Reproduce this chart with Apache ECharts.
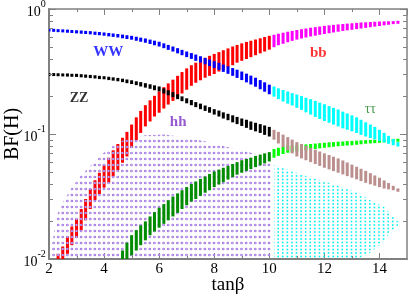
<!DOCTYPE html>
<html><head><meta charset="utf-8">
<script src="https://cdn.jsdelivr.net/npm/echarts@6/dist/echarts.min.js"></script>
<style>html,body{margin:0;padding:0;background:#fff}#c{width:409px;height:298px}</style>
</head><body><div id="c"></div>
<script>
// tanβ scan grid (x positions of the sampled points)
const tanb = [2.00,2.17,2.33,2.50,2.67,2.83,3.00,3.17,3.33,3.50,3.67,3.83,4.00,4.17,4.33,4.50,4.67,4.83,5.00,5.17,5.33,5.50,5.67,5.83,6.00,6.17,6.33,6.50,6.67,6.83,7.00,7.17,7.33,7.50,7.67,7.83,8.00,8.17,8.33,8.50,8.67,8.83,9.00,9.17,9.33,9.50,9.67,9.83,10.00,10.17,10.33,10.50,10.67,10.83,11.00,11.17,11.33,11.50,11.67,11.83,12.00,12.17,12.33,12.50,12.67,12.83,13.00,13.17,13.33,13.50,13.67,13.83,14.00,14.17,14.33,14.50,14.67];
const colourSplit = 10; // colour change of each band at tanβ = 10

const wwHi = [0.697,0.693,0.690,0.687,0.684,0.679,0.676,0.673,0.668,0.665,0.659,0.655,0.649,0.643,0.637,0.631,0.624,0.617,0.610,0.600,0.590,0.581,0.569,0.558,0.547,0.531,0.516,0.501,0.486,0.471,0.457,0.444,0.432,0.419,0.406,0.394,0.382,0.371,0.359,0.348,0.337,0.327,0.316,0.304,0.293,0.282,0.270,0.259,0.248,0.240,0.232,0.225,0.219,0.212,0.207,0.201,0.195,0.190,0.184,0.178,0.173,0.167,0.162,0.157,0.151,0.146,0.141,0.136,0.130,0.124,0.119,0.114,0.108,0.102,0.0966,0.0912,0.0861];
const wwLo = [0.661,0.658,0.653,0.650,0.646,0.643,0.638,0.634,0.631,0.627,0.621,0.617,0.611,0.604,0.598,0.592,0.583,0.575,0.568,0.557,0.547,0.537,0.525,0.513,0.501,0.486,0.471,0.457,0.442,0.427,0.412,0.399,0.385,0.373,0.361,0.349,0.337,0.326,0.314,0.303,0.292,0.281,0.270,0.259,0.249,0.239,0.228,0.218,0.208,0.199,0.190,0.182,0.175,0.169,0.162,0.156,0.149,0.143,0.137,0.132,0.127,0.123,0.119,0.115,0.111,0.108,0.105,0.102,0.0984,0.0955,0.0929,0.0906,0.0881,0.0857,0.0836,0.0813,0.0794];

const zzHi = [0.308,0.307,0.306,0.305,0.305,0.303,0.303,0.301,0.299,0.297,0.295,0.292,0.290,0.287,0.284,0.281,0.277,0.273,0.269,0.264,0.260,0.255,0.250,0.245,0.240,0.232,0.224,0.216,0.208,0.200,0.193,0.187,0.180,0.175,0.169,0.164,0.158,0.154,0.149,0.145,0.141,0.137,0.133,0.130,0.126,0.123,0.120,0.117,0.114,0.108,0.104,0.0989,0.0944,0.0902,0.0861,0.0832,0.0804,0.0776,0.0750,0.0724,0.0700,0.0679,0.0658,0.0638,0.0614,0.0592,0.0569,0.0547,0.0527,0.0507,0.0486,0.0466,0.0447,0.0425,0.0405,0.0385,0.0367];
const zzLo = [0.292,0.291,0.290,0.289,0.288,0.287,0.286,0.284,0.282,0.280,0.278,0.275,0.274,0.270,0.267,0.264,0.260,0.255,0.251,0.246,0.240,0.235,0.230,0.224,0.219,0.211,0.204,0.197,0.190,0.183,0.176,0.170,0.164,0.158,0.153,0.148,0.143,0.138,0.133,0.129,0.124,0.120,0.116,0.112,0.108,0.105,0.102,0.0984,0.0955,0.0900,0.0840,0.0785,0.0740,0.0700,0.0661,0.0638,0.0617,0.0596,0.0575,0.0556,0.0537,0.0521,0.0505,0.0490,0.0475,0.0460,0.0447,0.0434,0.0420,0.0407,0.0396,0.0386,0.0376,0.0366,0.0361,0.0355,0.0345];

const bbHi = [null,null,0.0110,0.0126,0.0151,0.0182,0.0209,0.0251,0.0302,0.0363,0.0427,0.0490,0.0562,0.0646,0.0741,0.0832,0.0933,0.104,0.119,0.136,0.153,0.170,0.186,0.202,0.219,0.237,0.254,0.272,0.292,0.313,0.335,0.355,0.372,0.389,0.407,0.422,0.437,0.452,0.468,0.484,0.501,0.516,0.531,0.545,0.557,0.570,0.583,0.597,0.610,0.622,0.634,0.646,0.658,0.668,0.679,0.689,0.698,0.708,0.716,0.724,0.733,0.740,0.746,0.753,0.759,0.764,0.769,0.774,0.780,0.783,0.787,0.791,0.794,0.796,0.798,0.800,0.802];
const bbLo = [null,null,0.0100,0.0100,0.0110,0.0129,0.0148,0.0170,0.0204,0.0251,0.0295,0.0331,0.0372,0.0407,0.0457,0.0513,0.0589,0.0661,0.0776,0.0891,0.102,0.115,0.126,0.138,0.148,0.160,0.172,0.184,0.197,0.211,0.226,0.243,0.257,0.269,0.282,0.292,0.302,0.316,0.327,0.343,0.355,0.372,0.385,0.398,0.412,0.427,0.442,0.457,0.473,0.495,0.513,0.527,0.542,0.556,0.569,0.581,0.592,0.603,0.612,0.622,0.631,0.640,0.649,0.658,0.667,0.675,0.682,0.690,0.698,0.706,0.715,0.723,0.731,0.740,0.748,0.757,0.764];

const ttHi = [null,null,null,null,null,null,null,null,null,null,null,null,null,null,null,null,0.0117,0.0135,0.0155,0.0170,0.0186,0.0200,0.0219,0.0237,0.0257,0.0275,0.0295,0.0316,0.0335,0.0355,0.0376,0.0398,0.0417,0.0437,0.0457,0.0479,0.0501,0.0519,0.0537,0.0556,0.0575,0.0596,0.0617,0.0631,0.0646,0.0668,0.0684,0.0700,0.0716,0.0759,0.0776,0.0794,0.0804,0.0809,0.0813,0.0818,0.0826,0.0832,0.0838,0.0845,0.0851,0.0857,0.0861,0.0867,0.0871,0.0877,0.0881,0.0885,0.0889,0.0893,0.0897,0.0899,0.0902,0.0904,0.0908,0.0910,0.0912];
const ttLo = [null,null,null,null,null,null,null,null,null,null,null,null,null,null,null,null,0.0100,0.0100,0.0107,0.0117,0.0129,0.0141,0.0155,0.0166,0.0178,0.0191,0.0204,0.0219,0.0234,0.0251,0.0269,0.0288,0.0302,0.0320,0.0339,0.0355,0.0376,0.0394,0.0412,0.0432,0.0452,0.0473,0.0490,0.0507,0.0525,0.0543,0.0562,0.0582,0.0603,0.0646,0.0668,0.0692,0.0708,0.0716,0.0724,0.0733,0.0741,0.0750,0.0759,0.0767,0.0776,0.0783,0.0791,0.0798,0.0804,0.0809,0.0813,0.0820,0.0828,0.0836,0.0841,0.0845,0.0851,0.0857,0.0863,0.0867,0.0871];

// hh: scanned region (upper / lower envelope)
const hhPurpleX = [2.05,2.15,2.33,2.55,2.82,3.13,3.44,3.73,4.10,4.50,4.90,5.50,6.20,7.00,7.70,8.40,9.00,9.50,10.10];
const hhPurpleTop = [0.0112,0.0148,0.0240,0.0295,0.0372,0.0457,0.0537,0.0631,0.0741,0.0851,0.0933,0.0977,0.0989,0.0933,0.0871,0.0794,0.0741,0.0692,0.0589];
const hhPurpleBottom = [0.01,0.01,0.01,0.01,0.01,0.01,0.01,0.01,0.01,0.01,0.01,0.01,0.01,0.01,0.01,0.01,0.01,0.01,0.01];
const hhCyanX = [10.17,10.33,11.25,12.46,13.20,13.67,14.16,14.40,14.67];
const hhCyanTop = [0.0575,0.0550,0.0468,0.0389,0.0339,0.0295,0.0263,0.0229,0.0200];
const hhCyanBottom = [0.0100,0.0100,0.0100,0.0100,0.0100,0.0112,0.0138,0.0166,0.0182];

// text labels
const labelText = ['WW','ZZ','bb','hh','ττ'];
const labelX = [4.15,3.09,11.78,6.69,13.67];
const labelY = [0.453,0.194,0.445,0.125,0.158];
const labelColor = ['#0000ff','#000000','#ff0000','#7d30c4','#1a801a'];
const labelSize = [15,14,15,15,14];
const labelWeight = ['bold','bold','bold','bold','normal'];

// tick values
const xMinorTicks = [3,5,7,9,11,13];
const yMinorTicks = [0.02,0.03,0.04,0.05,0.06,0.07,0.08,0.09,0.2,0.3,0.4,0.5,0.6,0.7,0.8,0.9];

const FONT = 'Liberation Serif';
const AXC = '#808080';

function makePattern(w, h, draw) {
  const c = document.createElement('canvas'); c.width = w; c.height = h;
  draw(c.getContext('2d')); return c;
}
const purplePat = makePattern(55, 6, g => {
  for (let k = 0; k < 12; k++) {
    const cx = 3.17 + k * 55 / 12;
    g.fillStyle = '#9c6ede'; g.beginPath(); g.arc(cx, 3, 1.35, 0, Math.PI * 2); g.fill();
    g.fillStyle = '#e2d6f6'; g.fillRect(cx - 0.5, 2.5, 1, 1);
  }
});
const cyanPat = makePattern(55, 7, g => {
  g.fillStyle = '#00f0f0';
  for (let k = 0; k < 12; k++) {
    const cx = 3.17 + k * 55 / 12;
    g.fillRect(cx - 0.8, 0.2, 1.6, 1.6);
    g.fillRect(cx - 0.8, 3.7, 1.6, 1.6);
  }
});

function bandSeries(lo, hi, color, upper) {
  const data = [];
  for (let i = 0; i < tanb.length; i++) {
    if (hi[i] == null || lo[i] == null) continue;
    const x = tanb[i];
    if (upper ? x <= colourSplit : x > colourSplit) continue;
    data.push([x, lo[i], hi[i]]);
  }
  return {
    type: 'custom', coordinateSystem: 'cartesian2d', xAxisIndex: 0, yAxisIndex: 0,
    silent: true, clip: true, data, encode: { x: 0, y: [1, 2] },
    renderItem(params, api) {
      const x = api.value(0);
      const p1 = api.coord([x, api.value(2)]);
      const p2 = api.coord([x, api.value(1)]);
      let top = p1[1], h = p2[1] - p1[1];
      if (h < 3) { top -= (3 - h) / 2; h = 3; }
      return { type: 'rect', shape: { x: p1[0] - 1.5, y: top, width: 3, height: h }, style: { fill: color } };
    }
  };
}
function regionSeries(xs, top, bottom, pattern) {
  return {
    type: 'custom', coordinateSystem: 'cartesian2d', xAxisIndex: 0, yAxisIndex: 0,
    silent: true, clip: true, data: [[xs[0], top[0]]],
    renderItem(params, api) {
      const pts = [];
      for (let i = 0; i < xs.length; i++) pts.push(api.coord([xs[i], top[i]]));
      for (let i = xs.length - 1; i >= 0; i--) pts.push(api.coord([xs[i], bottom[i]]));
      return { type: 'polygon', shape: { points: pts }, style: { fill: { image: pattern, repeat: 'repeat' } } };
    }
  };
}

const chart = echarts.init(document.getElementById('c'), null, { renderer: 'canvas' });
const tickSeries = {
  type: 'custom', coordinateSystem: 'cartesian2d', silent: true,
  data: xMinorTicks.map(v => [v, 0.01, 0]).concat(yMinorTicks.map(v => [2, v, 1])),
  renderItem(params, api) {
    const cs = params.coordSys;
    const p = api.coord([api.value(0), api.value(1)]);
    const st = { stroke: AXC, lineWidth: 1 };
    if (api.value(2) === 0) {
      const x = Math.round(p[0]) + 0.5;
      return { type: 'group', children: [
        { type: 'line', shape: { x1: x, y1: cs.y + cs.height, x2: x, y2: cs.y + cs.height - 3 }, style: st },
        { type: 'line', shape: { x1: x, y1: cs.y, x2: x, y2: cs.y + 3 }, style: st }
      ]};
    }
    const y = Math.round(p[1]) + 0.5;
    return { type: 'group', children: [
      { type: 'line', shape: { x1: cs.x, y1: y, x2: cs.x + 4, y2: y }, style: st },
      { type: 'line', shape: { x1: cs.x + cs.width, y1: y, x2: cs.x + cs.width - 4, y2: y }, style: st }
    ]};
  }
};
const labelSeries = {
  type: 'scatter', symbolSize: 0, silent: true, z: 10,
  data: labelText.map((t, i) => ({
    value: [labelX[i], labelY[i]],
    label: { show: true, position: 'inside', formatter: t, color: labelColor[i], fontSize: labelSize[i], fontWeight: labelWeight[i], fontFamily: FONT }
  }))
};

chart.setOption({
  animation: false,
  backgroundColor: '#fff',
  grid: { left: 49, top: 9, right: 2, bottom: 39, containLabel: false, outerBoundsMode: 'none' },
  xAxis: [
    { type: 'value', min: 2, max: 15, interval: 2, position: 'bottom',
      axisLine: { lineStyle: { color: AXC, width: 2 } },
      axisTick: { inside: true, length: 6, lineStyle: { color: AXC } },
      axisLabel: { fontFamily: FONT, fontSize: 15, color: '#000', margin: 3, showMaxLabel: false },
      splitLine: { show: false },
      name: 'tanβ', nameLocation: 'middle', nameGap: 17, nameMoveOverlap: false,
      nameTextStyle: { fontFamily: FONT, fontSize: 19, color: '#000', verticalAlign: 'top' } },
    { type: 'value', min: 2, max: 15, interval: 2, position: 'top',
      axisLine: { lineStyle: { color: AXC, width: 1.5 } },
      axisTick: { inside: true, length: 6, lineStyle: { color: AXC } },
      axisLabel: { show: false }, splitLine: { show: false } }
  ],
  yAxis: [
    { type: 'log', logBase: 10, min: 0.01, max: 1, position: 'left',
      axisLine: { lineStyle: { color: AXC, width: 2 } },
      axisTick: { inside: true, length: 7, lineStyle: { color: AXC } },
      splitLine: { show: false },
      axisLabel: { margin: 3,
        formatter: v => '{b|10}{s|' + Math.round(Math.log10(v)) + '}{p| }',
        rich: {
          b: { fontFamily: FONT, fontSize: 14, color: '#000', lineHeight: 14, verticalAlign: 'bottom' },
          s: { fontFamily: FONT, fontSize: 10, color: '#000', lineHeight: 15, verticalAlign: 'top' },
          p: { fontSize: 1, lineHeight: 20 }
        } },
      name: 'BF(H)', nameLocation: 'middle', nameGap: 26, nameRotate: 90, nameMoveOverlap: false,
      nameTextStyle: { fontFamily: FONT, fontSize: 20, color: '#000' } },
    { type: 'log', logBase: 10, min: 0.01, max: 1, position: 'right',
      axisLine: { lineStyle: { color: AXC, width: 1.5 } },
      axisTick: { inside: true, length: 7, lineStyle: { color: AXC } },
      axisLabel: { show: false }, splitLine: { show: false } }
  ],
  series: [
    bandSeries(bbLo, bbHi, '#ff0000', false),
    bandSeries(bbLo, bbHi, '#ff00ff', true),
    regionSeries(hhPurpleX, hhPurpleTop, hhPurpleBottom, purplePat),
    regionSeries(hhCyanX, hhCyanTop, hhCyanBottom, cyanPat),
    bandSeries(ttLo, ttHi, '#008c00', false),
    bandSeries(ttLo, ttHi, '#00ff00', true),
    bandSeries(zzLo, zzHi, '#000000', false),
    bandSeries(zzLo, zzHi, '#bc8f8f', true),
    bandSeries(wwLo, wwHi, '#0000ff', false),
    bandSeries(wwLo, wwHi, '#00ffff', true),
    tickSeries,
    labelSeries
  ]
});
</script></body></html>
